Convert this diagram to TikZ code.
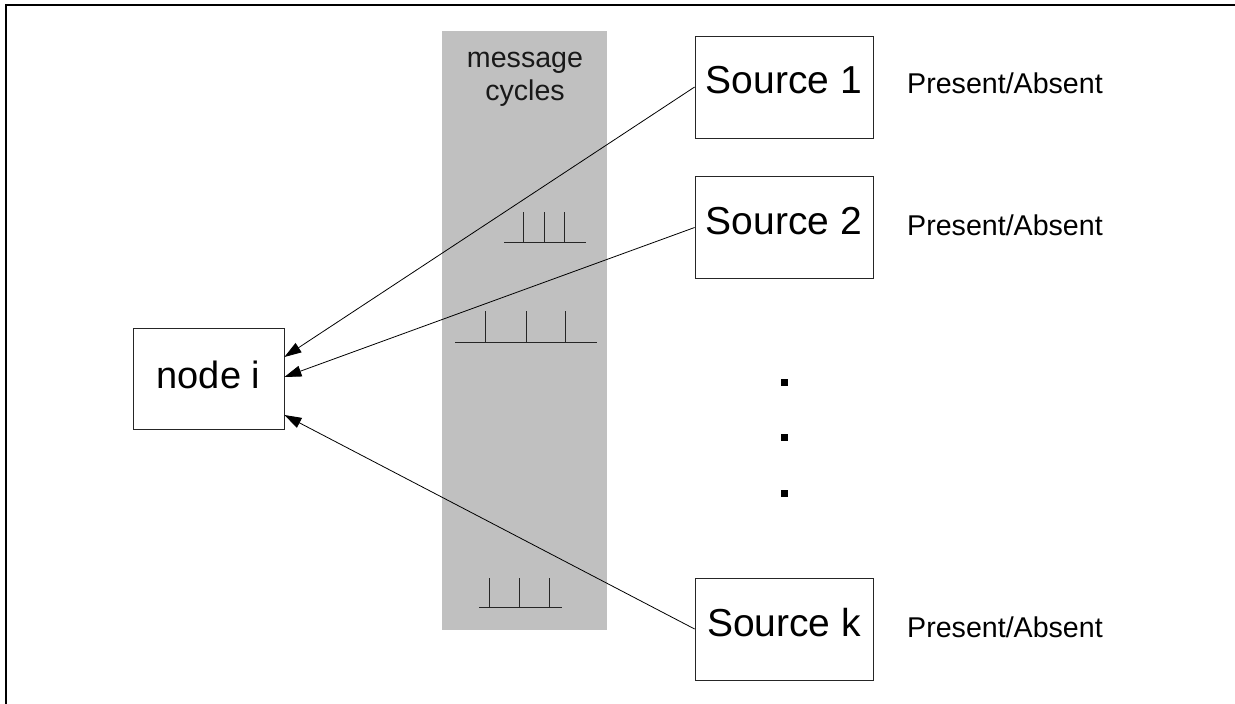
\documentclass[tikz,border=0pt]{standalone}
\usepackage{fontspec}
\setmainfont{Liberation Sans}
\usetikzlibrary{arrows.meta}
\definecolor{cyclegray}{RGB}{192,192,192}
\begin{document}
\begin{tikzpicture}[x=1pt,y=-1pt,
  srcbox/.style={draw=black!85,line width=0.8pt,minimum width=178pt,minimum height=102pt,inner sep=0pt,
    font=\fontsize{39}{45}\selectfont,text depth=14pt},
  nodebox/.style={draw=black!85,line width=0.8pt,minimum width=151pt,minimum height=101pt,inner sep=0pt,
    font=\fontsize{38}{44}\selectfont,text depth=7pt},
  status/.style={anchor=west,inner sep=0pt,font=\fontsize{28.6}{33}\selectfont},
  link/.style={line width=0.8pt,-{Triangle[length=17pt,width=11pt]}},
  tick/.style={line width=1pt,black!85},
  dotsq/.style={fill=black,draw=none,minimum size=7pt,inner sep=0pt}]
\useasboundingbox (0,0) rectangle (1235,704);
% frame
\draw[line width=2pt] (6,704) -- (6,5) -- (1235,5);
% gray band
\fill[cyclegray] (442,31) rectangle (607,630);
\node[align=center,inner sep=0pt,font=\fontsize{28.6}{33}\selectfont,text=black!90] (mc) at (525,79) {message\\cycles};
% tick groups
\draw[tick] (504,242) -- (586,242);
\foreach \x in {523,544,564} \draw[tick] (\x,212) -- (\x,242);
\draw[tick] (455,342) -- (597,342);
\foreach \x in {485,526,565} \draw[tick] (\x,311) -- (\x,342);
\draw[tick] (479,607) -- (562,607);
\foreach \x in {489,519,549} \draw[tick] (\x,578) -- (\x,607);
% nodes
\node[nodebox] (ni) at (208.5,378.5) {node i};
\node[srcbox] (s1) at (784,87) {Source 1};
\node[srcbox] (s2) at (784,227.5) {Source 2};
\node[srcbox] (sk) at (784,629) {Source k};
\node[status] (p1) at (907,83) {Present/Absent};
\node[status] (p2) at (907,225) {Present/Absent};
\node[status] (pk) at (907,627) {Present/Absent};
% dots
\node[dotsq] (d1) at (784,382) {};
\node[dotsq] (d2) at (784,437) {};
\node[dotsq] (d3) at (784,493) {};
% connectors
\draw[link] (s1.west) -- ([yshift=21.5pt]ni.east);
\draw[link] (s2.west) -- ([yshift=1.5pt]ni.east);
\draw[link] (sk.west) -- ([yshift=-36.5pt]ni.east);
\end{tikzpicture}
\end{document}
